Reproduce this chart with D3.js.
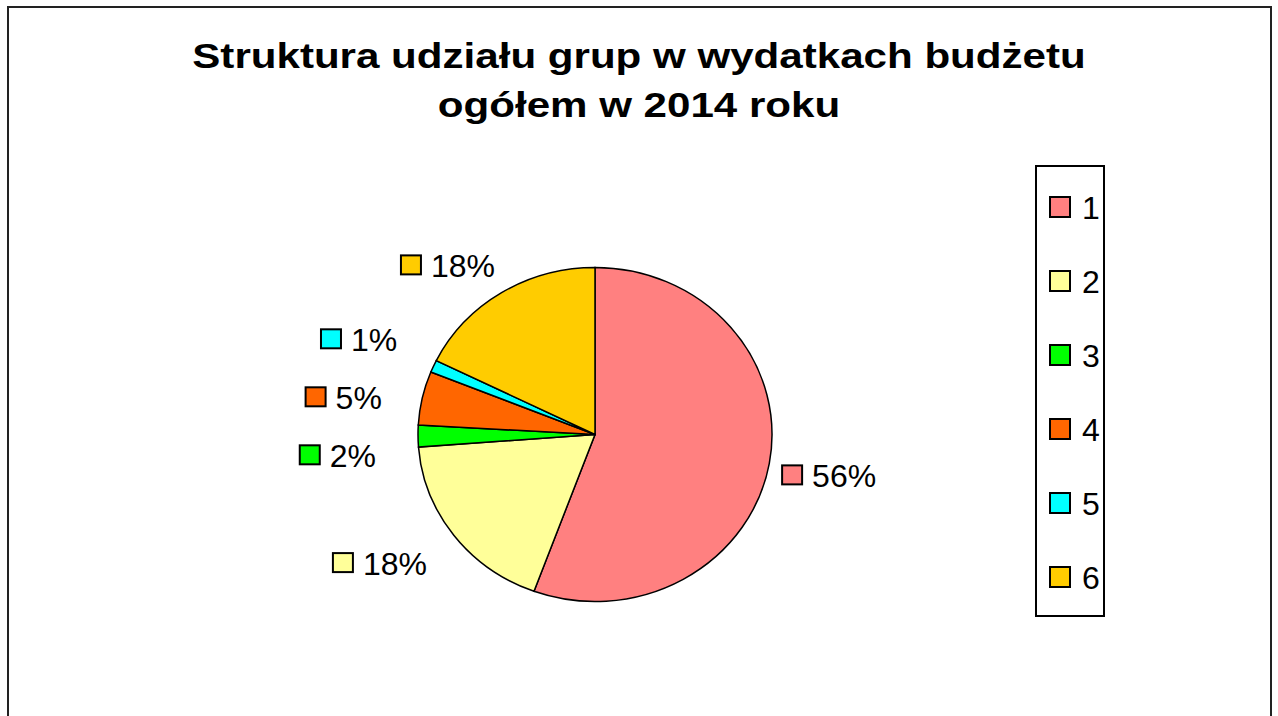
<!DOCTYPE html>
<html lang="pl">
<head>
<meta charset="utf-8">
<title>Struktura udziału grup</title>
<style>
    body { margin: 0; background: #fff; }
    text { font-family: "Liberation Sans", Arial, sans-serif; fill: #000; }
    .title { font-weight: bold; font-size: 36px; }
    .lbl { font-size: 32px; }
    .slice { stroke: #000; stroke-width: 1.5; vector-effect: non-scaling-stroke; }
    .key { stroke: #000; stroke-width: 2; }
</style>
</head>
<body>
<div id="chart"></div>
<script src="https://cdnjs.cloudflare.com/ajax/libs/d3/7.8.5/d3.min.js"></script>
<script>
// data
var categories = ["1", "2", "3", "4", "5", "6"];
var shares = [55.6, 18.2, 2.1, 5.2, 1.2, 17.7];
var colors = ["#ff8080", "#ffff99", "#00ff00", "#ff6600", "#00ffff", "#ffcc00"];
var titleLines = ["Struktura udziału grup w wydatkach budżetu", "ogółem w 2014 roku"];

var W = 1278, H = 716;
var cx = 595, cy = 434.5, rx = 177, ry = 167;

var svg = d3.select("#chart").append("svg")
    .attr("width", W)
    .attr("height", H);

// outer frame (bottom edge runs off the picture)
svg.append("rect")
    .attr("x", 8).attr("y", 7)
    .attr("width", 1263).attr("height", 720)
    .attr("fill", "none")
    .attr("stroke", "#222")
    .attr("stroke-width", 2);

// title, the original font is wider than Liberation Sans
svg.append("g")
    .attr("transform", "translate(639,0) scale(1.17,1)")
    .selectAll(".title")
    .data(titleLines)
    .enter().append("text")
    .attr("class", "title")
    .attr("x", 0)
    .attr("y", function(d, i) { return 68 + i * 49; })
    .attr("text-anchor", "middle")
    .text(function(d) { return d; });

var color = d3.scaleOrdinal().domain(categories).range(colors);

var pie = d3.pie().sort(null).value(function(d) { return d.v; });
var data = categories.map(function(c, i) { return { c: c, v: shares[i] }; });
var arcs = pie(data);
var total = d3.sum(shares);

var arc = d3.arc().innerRadius(0).outerRadius(rx);

// pie is a little wider than tall in the reference
svg.append("g")
    .attr("transform", "translate(" + cx + "," + cy + ") scale(1," + (ry / rx) + ")")
    .selectAll("path")
    .data(arcs)
    .enter().append("path")
    .attr("class", "slice")
    .attr("fill", function(d) { return color(d.data.c); })
    .attr("d", arc);

// data labels: marker + percent
var boxS = 20, gap = 10, lh = 24;
var lcx = cx - 14, lcy = cy + 5;
var labels = svg.selectAll(".plabel")
    .data(arcs)
    .enter().append("g")
    .attr("class", "plabel");

labels.append("rect")
    .attr("class", "key")
    .attr("width", boxS).attr("height", boxS - 1)
    .attr("fill", function(d) { return color(d.data.c); });

labels.append("text")
    .attr("class", "lbl")
    .text(function(d) { return Math.round(d.data.v / total * 100) + "%"; });

var pos = [];
labels.each(function(d, i) {
    var mid = (d.startAngle + d.endAngle) / 2;
    var s = Math.sin(mid), c = Math.cos(mid);
    var tw = d3.select(this).select("text").node().getComputedTextLength();
    var w = boxS + gap + tw;
    var ax = lcx + s * (rx + 28), ay = lcy - c * (ry + 26);
    pos[i] = { x: ax + s * w / 2, y: ay - c * lh / 2, w: w, left: s < 0 };
});

// spread crowded labels on the left side
var minGap = 58;
var left = pos.filter(function(p) { return p.left; })
    .sort(function(a, b) { return a.y - b.y; });
for (var k = 0; k < 60; k++) {
    for (var j = 1; j < left.length; j++) {
        var dy = left[j].y - left[j - 1].y;
        if (dy < minGap) {
            var push = (minGap - dy) / 2;
            left[j].y += push;
            left[j - 1].y -= push;
        }
    }
}

labels.each(function(d, i) {
    var p = pos[i];
    var x0 = p.x - p.w / 2;
    var g = d3.select(this);
    g.select("rect").attr("x", x0).attr("y", p.y - boxS / 2);
    g.select("text").attr("x", x0 + boxS + gap).attr("y", p.y + 11.5);
});

// legend
var ly = d3.scalePoint().domain(categories).range([207, 577]);
var legendX = 1036, legendW = 68;

svg.append("rect")
    .attr("x", legendX).attr("y", 166)
    .attr("width", legendW).attr("height", 450)
    .attr("fill", "#fff")
    .attr("stroke", "#000")
    .attr("stroke-width", 2);

var items = svg.selectAll(".legend-item")
    .data(categories)
    .enter().append("g")
    .attr("class", "legend-item")
    .attr("transform", function(d) { return "translate(" + (legendX + 14) + "," + ly(d) + ")"; });

items.append("rect")
    .attr("class", "key")
    .attr("x", 0).attr("y", -10)
    .attr("width", 20).attr("height", 20)
    .attr("fill", function(d) { return color(d); });

items.append("text")
    .attr("class", "lbl")
    .attr("x", 32)
    .attr("y", 11.5)
    .text(function(d) { return d; });
</script>
</body>
</html>
